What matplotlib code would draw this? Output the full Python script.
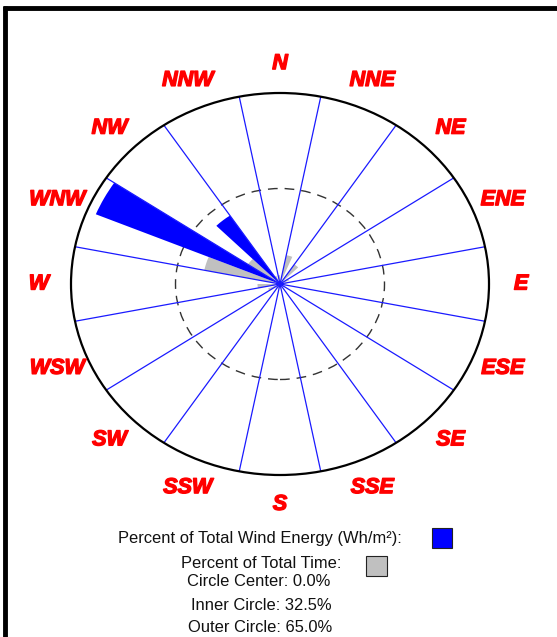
import numpy as np
import matplotlib
matplotlib.use("Agg")
import matplotlib.pyplot as plt
import matplotlib.patheffects as pe
from matplotlib.patches import Wedge, Ellipse, Rectangle
from matplotlib.lines import Line2D

directions = ['N', 'NNE', 'NE', 'ENE', 'E', 'ESE', 'SE', 'SSE',
              'S', 'SSW', 'SW', 'WSW', 'W', 'WNW', 'NW', 'NNW']
energy_pct = [0.4, 0.6, 0.4, 0.2, 0.1, 0.1, 0.1, 0.1,
              0.1, 0.1, 0.2, 0.4, 1.2, 62.0, 28.0, 0.8]
time_pct = [3.0, 10.0, 8.0, 3.0, 2.0, 1.5, 1.5, 1.5,
            1.5, 1.5, 2.0, 4.0, 7.0, 24.0, 12.0, 3.0]
inner_circle = 32.5
outer_circle = 65.0
legend_lines = ["Percent of Total Wind Energy (Wh/m²):", "Percent of Total Time:",
                "Circle Center: 0.0%", "Inner Circle: 32.5%", "Outer Circle: 65.0%"]

W, H = 557, 637
fig = plt.figure(figsize=(W / 100, H / 100), dpi=100)
fig.patch.set_facecolor('white')

# main (elliptical) rose axes
left, right, top, bottom = 71, 489, 93, 475
ax = fig.add_axes([left / W, 1 - bottom / H, (right - left) / W, (bottom - top) / H])
ax.set_xlim(-outer_circle, outer_circle)
ax.set_ylim(-outer_circle, outer_circle)
ax.set_aspect('auto')
ax.axis('off')

# inner dashed circle
ax.add_patch(Ellipse((0, 0), 2 * inner_circle, 2 * inner_circle, fill=False,
                     edgecolor='#333333', lw=1.0, linestyle=(0, (7, 5)), zorder=1))

step = 360 / len(directions)
half = step / 2
for i, d in enumerate(directions):
    c = i * step
    # time (gray): counter-clockwise half of the sector
    ax.add_patch(Wedge((0, 0), time_pct[i], 90 - c, 90 - c + half,
                       facecolor='#C0C0C0', edgecolor='none', zorder=2))
    # energy (blue): clockwise half of the sector
    ax.add_patch(Wedge((0, 0), energy_pct[i], 90 - c - half, 90 - c,
                       facecolor='#0000FF', edgecolor='none', zorder=3))

# radial boundary lines
for i in range(len(directions)):
    a = np.deg2rad(i * step + half)
    ax.plot([0, outer_circle * np.sin(a)], [0, outer_circle * np.cos(a)],
            color='#1a1aff', lw=0.9, zorder=4, solid_capstyle='butt')

# outer circle
ax.add_patch(Ellipse((0, 0), 2 * outer_circle, 2 * outer_circle, fill=False,
                     edgecolor='black', lw=1.6, zorder=5, clip_on=False))

# direction labels
label_r = 75.0
for i, d in enumerate(directions):
    a = np.deg2rad(i * step)
    ax.text(label_r * np.sin(a), label_r * np.cos(a), d, ha='center', va='center',
            color='#FF0000', fontsize=15.5, fontweight='bold', fontstyle='italic',
            family=['Liberation Sans', 'DejaVu Sans'], clip_on=False, zorder=6,
            path_effects=[pe.withStroke(linewidth=1.0, foreground='#FF0000')])

# legend texts
def fx(x):
    return x / W

def fy(y):
    return 1 - y / H

txt_pos = [(260, 539), (261, 563), (258.5, 582), (261, 606), (260, 628)]
for s, (x, y) in zip(legend_lines, txt_pos):
    fig.text(fx(x), fy(y), s, ha='center', va='center', fontsize=11.9,
             color='#111111', family=['Liberation Sans', 'DejaVu Sans'])

fig.add_artist(Rectangle((fx(432), fy(548)), 20 / W, 20 / H, transform=fig.transFigure,
                         facecolor='#0000FF', edgecolor='#222222', lw=0.8))
fig.add_artist(Rectangle((fx(366), fy(576)), 21 / W, 20 / H, transform=fig.transFigure,
                         facecolor='#C0C0C0', edgecolor='#222222', lw=0.8))

# frame lines (left and top)
fig.add_artist(Line2D([fx(5), fx(5)], [fy(6), 0], transform=fig.transFigure,
                      color='black', lw=3.5, solid_capstyle='butt'))
fig.add_artist(Line2D([fx(3), 1], [fy(8), fy(8)], transform=fig.transFigure,
                      color='black', lw=3.5, solid_capstyle='butt'))

fig.savefig('out.png', dpi=100, facecolor='white')
